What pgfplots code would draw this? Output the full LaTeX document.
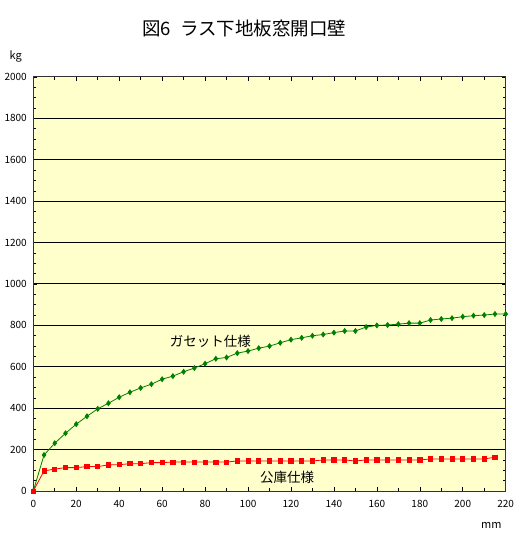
\documentclass[border=0pt]{standalone}
\usepackage{fontspec}
\setmainfont{Noto Sans CJK JP}
\usepackage{pgfplots}
\pgfplotsset{compat=1.18}
\definecolor{bgy}{HTML}{FFFFCC}
\definecolor{gline}{HTML}{008000}
\definecolor{frame}{HTML}{333333}
\begin{document}
\begin{tikzpicture}[x=1pt,y=1pt]
\path[use as bounding box] (-33.3,-53) rectangle (497.7,491);
\begin{axis}[
  scale only axis, width=472.4pt, height=414pt,
  xmin=0, xmax=220, ymin=0, ymax=2000,
  axis background/.style={fill=bgy},
  axis line style={frame, line width=1pt},
  xtick={0,20,...,220}, minor xtick={10,30,...,210},
  ytick={0,200,...,2000}, minor ytick={50,100,...,1950},
  tick align=inside, tick style={black, line width=0.6pt},
  major tick length=4pt, minor tick length=3pt,
  ymajorgrids, grid style={black, line width=1pt},
  /pgf/number format/assume math mode=true,
  /pgf/number format/1000 sep={},
  ticklabel style={font=\fontsize{10}{12}\selectfont},
  yticklabel style={xshift=-3pt},
  xticklabel style={yshift=-6pt},
  clip=false,
]
\addplot[gline, line width=0.8pt, mark=diamond*, mark size=2.4pt, mark options={solid, fill=gline}] coordinates {
(0,0)(5,174)(10,231)(15,279)(20,323)(25,361)(30,397)(35,424)(40,453)(45,477)
(50,498)(55,516)(60,540)(65,555)(70,576)(75,594)(80,615)(85,639)(90,645)(95,666)
(100,676)(105,690)(110,700)(115,716)(120,731)(125,740)(130,750)(135,756)(140,765)(145,773)
(150,773)(155,792)(160,800)(165,802)(170,806)(175,811)(180,811)(185,826)(190,831)(195,835)
(200,842)(205,847)(210,850)(215,855)(220,855)};
\addplot[red, line width=0.8pt, mark=square*, mark size=2.1pt, mark options={solid, fill=red}] coordinates {
(0,0)(5,97)(10,106)(15,113)(20,113)(25,118)(30,118)(35,126)(40,127)(45,132)
(50,132)(55,137)(60,137)(65,140)(70,140)(75,140)(80,140)(85,140)(90,140)(95,145)
(100,145)(105,145)(110,145)(115,145)(120,145)(125,145)(130,145)(135,150)(140,150)(145,150)
(150,145)(155,150)(160,150)(165,150)(170,150)(175,150)(180,150)(185,155)(190,155)(195,155)
(200,155)(205,155)(210,155)(215,163)};
\node[font=\fontsize{13.5}{15}\selectfont, anchor=west] at (axis cs:62,725) {ガセット仕様};
\node[font=\fontsize{13.5}{15}\selectfont, anchor=west] at (axis cs:104,65) {公庫仕様};
\end{axis}
\node[font=\fontsize{18.5}{20}\selectfont] at (211,463) {図6\hspace{0.5em}ラス下地板窓開口壁};
\node[font=\fontsize{11}{12}\selectfont] at (-17.5,434) {kg};
\node[font=\fontsize{11}{12}\selectfont] at (458,-34) {mm};
\end{tikzpicture}
\end{document}
